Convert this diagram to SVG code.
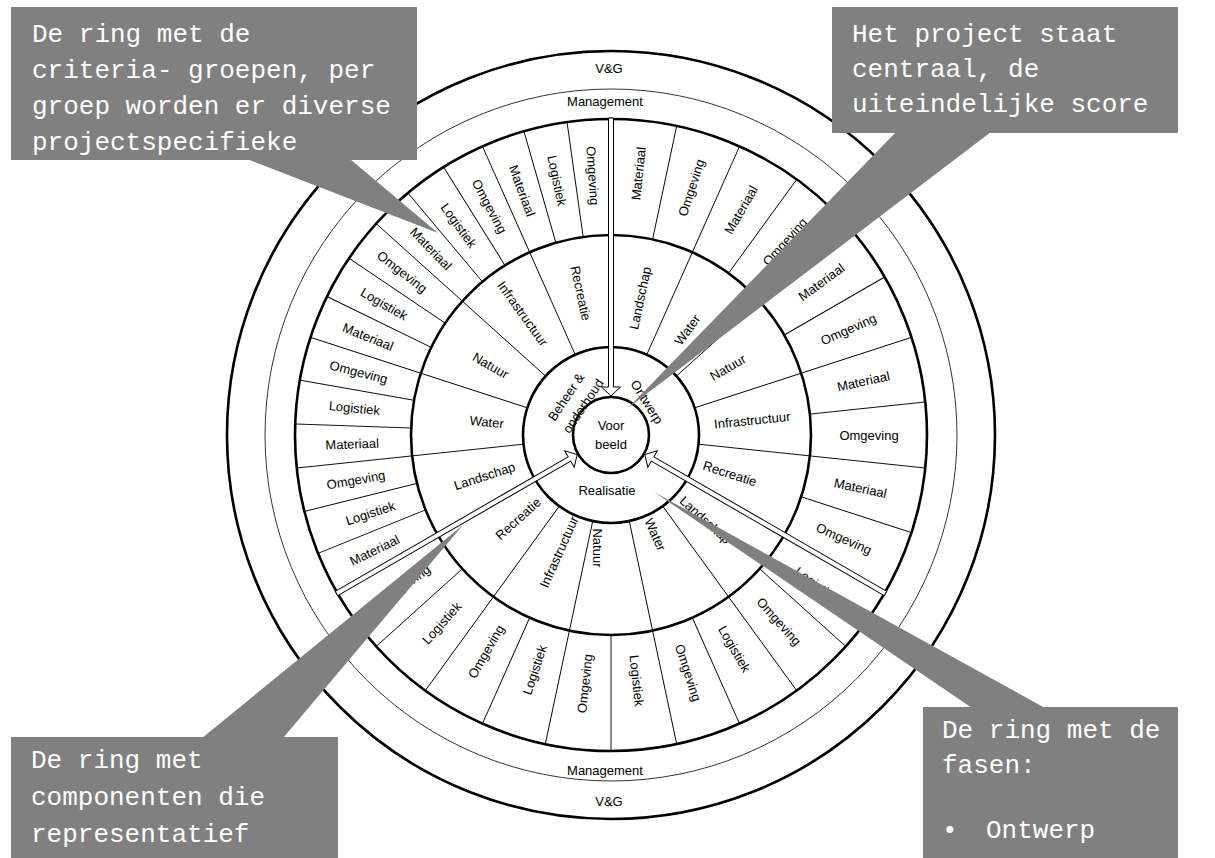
<svg xmlns="http://www.w3.org/2000/svg" xmlns:xlink="http://www.w3.org/1999/xlink" width="1215" height="858" viewBox="0 0 1215 858">
<style>
.thick{fill:none;stroke:#000;stroke-width:2.6}
.thin{fill:none;stroke:#000;stroke-width:0.8}
.div{stroke:#000;stroke-width:0.9}
.lbl{font-family:"Liberation Sans",Arial,sans-serif;font-size:13px;fill:#000;text-anchor:middle}
.call{fill:#808080}
.ct{font-family:"Liberation Mono","Courier New",monospace;font-size:26px;fill:#fff}
.arrow{fill:#fff;stroke:#000;stroke-width:1}
</style>
<defs>
<polygon id="arr" class="arrow" points="608.5,118 613.5,118 613.5,387 620.5,387 611,396 601.5,387 608.5,387"/>
</defs>
<rect width="1215" height="858" fill="#fff"/>
<g id="rings">
<circle class="thick" cx="611" cy="435" r="384"/>
<circle class="thin" cx="611" cy="435" r="346"/>
<circle class="thick" cx="611" cy="435" r="316"/>
<circle class="thick" cx="611" cy="435" r="200"/>
<circle class="thick" cx="611" cy="435" r="88"/>
<circle class="thick" cx="611" cy="435" r="38"/>
</g>
<g id="dividers">
<g id="category-dividers">
<line class="div" x1="611" y1="347" x2="611" y2="235" transform="rotate(-24 611 435)"/>
<line class="div" x1="611" y1="347" x2="611" y2="235" transform="rotate(-48 611 435)"/>
<line class="div" x1="611" y1="347" x2="611" y2="235" transform="rotate(-72 611 435)"/>
<line class="div" x1="611" y1="347" x2="611" y2="235" transform="rotate(-96 611 435)"/>
<line class="div" x1="611" y1="347" x2="611" y2="235" transform="rotate(24 611 435)"/>
<line class="div" x1="611" y1="347" x2="611" y2="235" transform="rotate(48 611 435)"/>
<line class="div" x1="611" y1="347" x2="611" y2="235" transform="rotate(72 611 435)"/>
<line class="div" x1="611" y1="347" x2="611" y2="235" transform="rotate(96 611 435)"/>
<line class="div" x1="611" y1="347" x2="611" y2="235" transform="rotate(144 611 435)"/>
<line class="div" x1="611" y1="347" x2="611" y2="235" transform="rotate(168 611 435)"/>
<line class="div" x1="611" y1="347" x2="611" y2="235" transform="rotate(192 611 435)"/>
<line class="div" x1="611" y1="347" x2="611" y2="235" transform="rotate(216 611 435)"/>
</g>
<g id="component-dividers">
<line class="div" x1="611" y1="235" x2="611" y2="119" transform="rotate(-8 611 435)"/>
<line class="div" x1="611" y1="235" x2="611" y2="119" transform="rotate(-16 611 435)"/>
<line class="div" x1="611" y1="235" x2="611" y2="119" transform="rotate(-24 611 435)"/>
<line class="div" x1="611" y1="235" x2="611" y2="119" transform="rotate(-32 611 435)"/>
<line class="div" x1="611" y1="235" x2="611" y2="119" transform="rotate(-40 611 435)"/>
<line class="div" x1="611" y1="235" x2="611" y2="119" transform="rotate(-48 611 435)"/>
<line class="div" x1="611" y1="235" x2="611" y2="119" transform="rotate(-56 611 435)"/>
<line class="div" x1="611" y1="235" x2="611" y2="119" transform="rotate(-64 611 435)"/>
<line class="div" x1="611" y1="235" x2="611" y2="119" transform="rotate(-72 611 435)"/>
<line class="div" x1="611" y1="235" x2="611" y2="119" transform="rotate(-80 611 435)"/>
<line class="div" x1="611" y1="235" x2="611" y2="119" transform="rotate(-88 611 435)"/>
<line class="div" x1="611" y1="235" x2="611" y2="119" transform="rotate(-96 611 435)"/>
<line class="div" x1="611" y1="235" x2="611" y2="119" transform="rotate(-104 611 435)"/>
<line class="div" x1="611" y1="235" x2="611" y2="119" transform="rotate(-112 611 435)"/>
<line class="div" x1="611" y1="235" x2="611" y2="119" transform="rotate(12 611 435)"/>
<line class="div" x1="611" y1="235" x2="611" y2="119" transform="rotate(24 611 435)"/>
<line class="div" x1="611" y1="235" x2="611" y2="119" transform="rotate(36 611 435)"/>
<line class="div" x1="611" y1="235" x2="611" y2="119" transform="rotate(48 611 435)"/>
<line class="div" x1="611" y1="235" x2="611" y2="119" transform="rotate(60 611 435)"/>
<line class="div" x1="611" y1="235" x2="611" y2="119" transform="rotate(72 611 435)"/>
<line class="div" x1="611" y1="235" x2="611" y2="119" transform="rotate(84 611 435)"/>
<line class="div" x1="611" y1="235" x2="611" y2="119" transform="rotate(96 611 435)"/>
<line class="div" x1="611" y1="235" x2="611" y2="119" transform="rotate(108 611 435)"/>
<line class="div" x1="611" y1="235" x2="611" y2="119" transform="rotate(132 611 435)"/>
<line class="div" x1="611" y1="235" x2="611" y2="119" transform="rotate(144 611 435)"/>
<line class="div" x1="611" y1="235" x2="611" y2="119" transform="rotate(156 611 435)"/>
<line class="div" x1="611" y1="235" x2="611" y2="119" transform="rotate(168 611 435)"/>
<line class="div" x1="611" y1="235" x2="611" y2="119" transform="rotate(180 611 435)"/>
<line class="div" x1="611" y1="235" x2="611" y2="119" transform="rotate(192 611 435)"/>
<line class="div" x1="611" y1="235" x2="611" y2="119" transform="rotate(204 611 435)"/>
<line class="div" x1="611" y1="235" x2="611" y2="119" transform="rotate(216 611 435)"/>
<line class="div" x1="611" y1="235" x2="611" y2="119" transform="rotate(228 611 435)"/>
</g>
</g>
<g id="connectors">
<use xlink:href="#arr"/>
<use xlink:href="#arr" transform="rotate(120 611 435)"/>
<use xlink:href="#arr" transform="rotate(-120 611 435)"/>
</g>
<g id="outer-labels">
<text class="lbl" x="609" y="68" dy="0.35em">V&amp;G</text>
<text class="lbl" x="605" y="101" dy="0.35em">Management</text>
<text class="lbl" x="605" y="770" dy="0.35em">Management</text>
<text class="lbl" x="609" y="801" dy="0.35em">V&amp;G</text>
</g>
<g id="center">
<text class="lbl" x="611" y="425" dy="0.35em">Voor</text>
<text class="lbl" x="611" y="444" dy="0.35em">beeld</text>
</g>
<g id="phases">
<text class="lbl" transform="translate(566 397) rotate(-56)" dy="0.35em">Beheer &amp;</text>
<text class="lbl" transform="translate(583 406) rotate(-56)" dy="0.35em">onderhoud</text>
<text class="lbl" transform="translate(647 402) rotate(58)" dy="0.35em">Ontwerp</text>
<text class="lbl" x="607" y="490" dy="0.35em">Realisatie</text>
</g>
<g id="categories">
<text class="lbl" transform="rotate(12 611 435) translate(611 295) rotate(-90)" dy="0.35em">Landschap</text>
<text class="lbl" transform="rotate(36 611 435) translate(611 305) rotate(-90)" dy="0.35em">Water</text>
<text class="lbl" transform="rotate(60 611 435) translate(611 300) rotate(-90)" dy="0.35em">Natuur</text>
<text class="lbl" transform="rotate(84 611 435) translate(611 293) rotate(-90)" dy="0.35em">Infrastructuur</text>
<text class="lbl" transform="rotate(108 611 435) translate(611 310) rotate(-90)" dy="0.35em">Recreatie</text>
<text class="lbl" transform="rotate(132 611 435) translate(611 308) rotate(-90)" dy="0.35em">Landschap</text>
<text class="lbl" transform="rotate(156 611 435) translate(611 326) rotate(-90)" dy="0.35em">Water</text>
<text class="lbl" transform="rotate(180 611 435) translate(624 322) rotate(-90)" dy="0.35em">Natuur</text>
<text class="lbl" transform="rotate(204 611 435) translate(611 307) rotate(90)" dy="0.35em">Infrastructuur</text>
<text class="lbl" transform="rotate(228 611 435) translate(611 310) rotate(90)" dy="0.35em">Recreatie</text>
<text class="lbl" transform="rotate(-108 611 435) translate(611 302) rotate(90)" dy="0.35em">Landschap</text>
<text class="lbl" transform="rotate(-84 611 435) translate(611 310) rotate(90)" dy="0.35em">Water</text>
<text class="lbl" transform="rotate(-60 611 435) translate(611 296) rotate(90)" dy="0.35em">Natuur</text>
<text class="lbl" transform="rotate(-36 611 435) translate(611 285) rotate(90)" dy="0.35em">Infrastructuur</text>
<text class="lbl" transform="rotate(-12 611 435) translate(611 290) rotate(90)" dy="0.35em">Recreatie</text>
</g>
<g id="components">
<text class="lbl" transform="rotate(-4 611 435) translate(611 175) rotate(90)" dy="0.35em">Omgeving</text>
<text class="lbl" transform="rotate(-12 611 435) translate(611 175) rotate(90)" dy="0.35em">Logistiek</text>
<text class="lbl" transform="rotate(-20 611 435) translate(611 175) rotate(90)" dy="0.35em">Materiaal</text>
<text class="lbl" transform="rotate(-28 611 435) translate(611 176) rotate(90)" dy="0.35em">Omgeving</text>
<text class="lbl" transform="rotate(-36 611 435) translate(611 176) rotate(90)" dy="0.35em">Logistiek</text>
<text class="lbl" transform="rotate(-44 611 435) translate(611 176) rotate(90)" dy="0.35em">Materiaal</text>
<text class="lbl" transform="rotate(-52 611 435) translate(611 170) rotate(90)" dy="0.35em">Omgeving</text>
<text class="lbl" transform="rotate(-60 611 435) translate(611 173) rotate(90)" dy="0.35em">Logistiek</text>
<text class="lbl" transform="rotate(-68 611 435) translate(611 173) rotate(90)" dy="0.35em">Materiaal</text>
<text class="lbl" transform="rotate(-76 611 435) translate(611 175) rotate(90)" dy="0.35em">Omgeving</text>
<text class="lbl" transform="rotate(-84 611 435) translate(611 177) rotate(90)" dy="0.35em">Logistiek</text>
<text class="lbl" transform="rotate(-92 611 435) translate(611 176) rotate(90)" dy="0.35em">Materiaal</text>
<text class="lbl" transform="rotate(-100 611 435) translate(611 176) rotate(90)" dy="0.35em">Omgeving</text>
<text class="lbl" transform="rotate(-108 611 435) translate(611 182) rotate(90)" dy="0.35em">Logistiek</text>
<text class="lbl" transform="rotate(-116 611 435) translate(611 172) rotate(90)" dy="0.35em">Materiaal</text>
<text class="lbl" transform="rotate(6 611 435) translate(611 172) rotate(-90)" dy="0.35em">Materiaal</text>
<text class="lbl" transform="rotate(18 611 435) translate(611 175) rotate(-90)" dy="0.35em">Omgeving</text>
<text class="lbl" transform="rotate(30 611 435) translate(611 175) rotate(-90)" dy="0.35em">Materiaal</text>
<text class="lbl" transform="rotate(42 611 435) translate(611 175) rotate(-90)" dy="0.35em">Omgeving</text>
<text class="lbl" transform="rotate(54 611 435) translate(611 175) rotate(-90)" dy="0.35em">Materiaal</text>
<text class="lbl" transform="rotate(66 611 435) translate(611 175) rotate(-90)" dy="0.35em">Omgeving</text>
<text class="lbl" transform="rotate(78 611 435) translate(611 177) rotate(-90)" dy="0.35em">Materiaal</text>
<text class="lbl" transform="rotate(90 611 435) translate(611 177) rotate(-90)" dy="0.35em">Omgeving</text>
<text class="lbl" transform="rotate(102 611 435) translate(611 180) rotate(-90)" dy="0.35em">Materiaal</text>
<text class="lbl" transform="rotate(114 611 435) translate(611 180) rotate(-90)" dy="0.35em">Omgeving</text>
<text class="lbl" transform="rotate(126 611 435) translate(611 180) rotate(-90)" dy="0.35em">Logistiek</text>
<text class="lbl" transform="rotate(138 611 435) translate(611 184) rotate(-90)" dy="0.35em">Omgeving</text>
<text class="lbl" transform="rotate(150 611 435) translate(611 188) rotate(-90)" dy="0.35em">Logistiek</text>
<text class="lbl" transform="rotate(162 611 435) translate(611 185) rotate(-90)" dy="0.35em">Omgeving</text>
<text class="lbl" transform="rotate(174 611 435) translate(611 188) rotate(-90)" dy="0.35em">Logistiek</text>
<text class="lbl" transform="rotate(186 611 435) translate(611 185) rotate(90)" dy="0.35em">Omgeving</text>
<text class="lbl" transform="rotate(198 611 435) translate(611 188) rotate(90)" dy="0.35em">Logistiek</text>
<text class="lbl" transform="rotate(210 611 435) translate(611 185) rotate(90)" dy="0.35em">Omgeving</text>
<text class="lbl" transform="rotate(222 611 435) translate(611 182) rotate(90)" dy="0.35em">Logistiek</text>
<text class="lbl" transform="rotate(234 611 435) translate(611 180) rotate(90)" dy="0.35em">Omgeving</text>
</g>
<g id="callout-criteria">
<rect class="call" x="11" y="7" width="406" height="153"/>
<polygon class="call" points="247,159 350,159 438,233"/>
<text class="ct" x="32" y="42">De ring met de</text>
<text class="ct" x="32" y="78">criteria- groepen, per</text>
<text class="ct" x="32" y="114">groep worden er diverse</text>
<text class="ct" x="32" y="150">projectspecifieke</text>
</g>
<g id="callout-project">
<rect class="call" x="832" y="7" width="346" height="126"/>
<polygon class="call" points="896,132 991,132 628,408"/>
<text class="ct" x="852" y="42">Het project staat</text>
<text class="ct" x="852" y="77">centraal, de</text>
<text class="ct" x="852" y="112">uiteindelijke score</text>
</g>
<g id="callout-components">
<rect class="call" x="11" y="737" width="327" height="121"/>
<polygon class="call" points="202,738 283,738 463,525"/>
<text class="ct" x="31" y="768">De ring met</text>
<text class="ct" x="31" y="805">componenten die</text>
<text class="ct" x="31" y="842">representatief</text>
</g>
<g id="callout-phases">
<rect class="call" x="923" y="707" width="255" height="151"/>
<polygon class="call" points="972,708 1045,708 654,492"/>
<text class="ct" x="942" y="738">De ring met de</text>
<text class="ct" x="942" y="773">fasen:</text>
<text class="ct" y="838"><tspan x="942">•</tspan><tspan x="986">Ontwerp</tspan></text>
</g>
</svg>
